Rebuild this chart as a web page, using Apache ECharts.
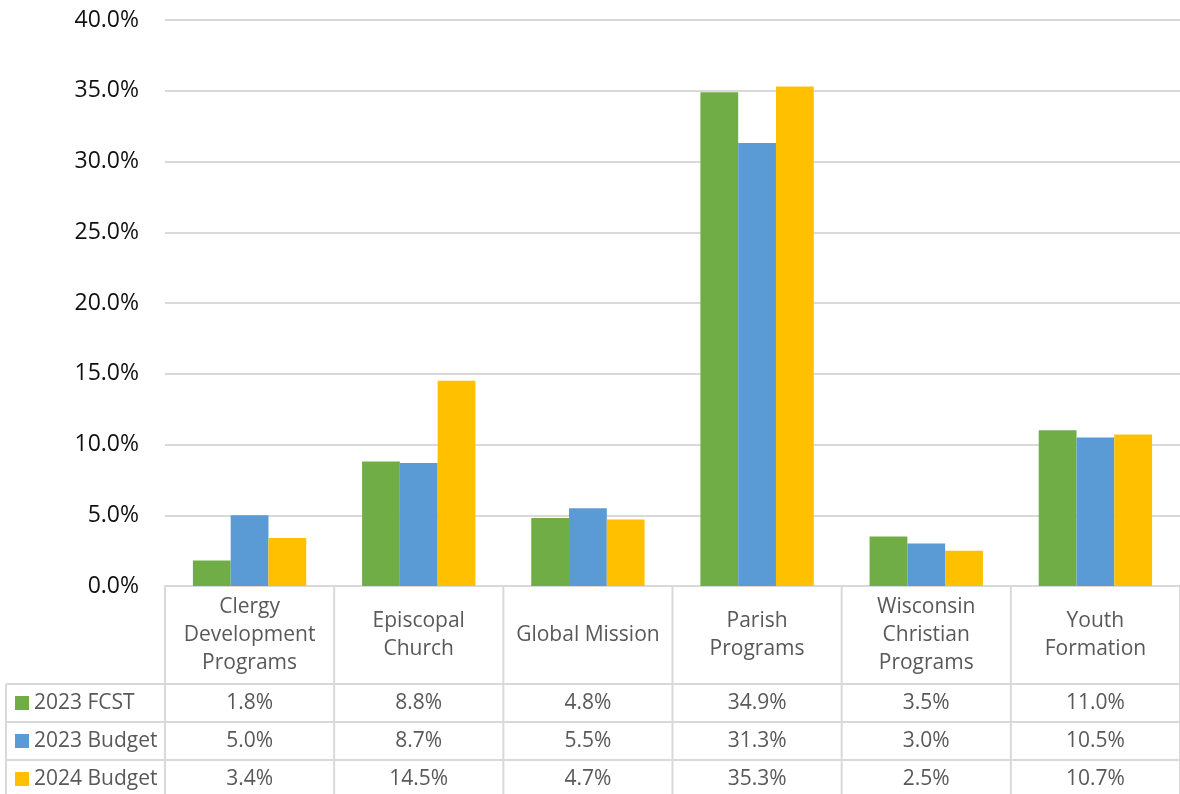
<!DOCTYPE html>
<html><head><meta charset="utf-8">
<script src="https://cdn.jsdelivr.net/npm/echarts@6/dist/echarts.min.js"></script>
<style>html,body{margin:0;padding:0;background:#fff}#c{width:1180px;height:794px}</style>
</head><body><div id="c"></div>
<script>
const categories = ['Clergy\nDevelopment\nPrograms', 'Episcopal\nChurch', 'Global Mission', 'Parish\nPrograms', 'Wisconsin\nChristian\nPrograms', 'Youth\nFormation'];
const seriesNames = ['2023 FCST', '2023 Budget', '2024 Budget'];
const fcst2023 = [1.8, 8.8, 4.8, 34.9, 3.5, 11.0];
const budget2023 = [5.0, 8.7, 5.5, 31.3, 3.0, 10.5];
const budget2024 = [3.4, 14.5, 4.7, 35.3, 2.5, 10.7];
const yTicks = [0, 5, 10, 15, 20, 25, 30, 35, 40];
const colors = ['#70AD47', '#5B9BD5', '#FFC000'];
const seriesData = [fcst2023, budget2023, budget2024];

const FONT = 'Open Sans';
const GRID = {left: 165, top: 20, width: 1018, bottom: 208};
const chart = echarts.init(document.getElementById('c'), null, {renderer: 'canvas'});
chart.setOption({
  animation: false,
  textStyle: {fontFamily: FONT},
  grid: GRID,
  xAxis: {
    type: 'category', data: categories,
    axisLine: {lineStyle: {color: '#d9d9d9', width: 2}},
    axisTick: {show: false},
    axisLabel: {show: false}
  },
  yAxis: {
    type: 'value', min: yTicks[0], max: yTicks[yTicks.length - 1], interval: 5,
    axisLine: {show: false}, axisTick: {show: false},
    axisLabel: {formatter: v => v.toFixed(1) + '%', fontSize: 23, color: '#111', margin: 26, fontFamily: FONT},
    splitLine: {lineStyle: {color: '#d9d9d9', width: 2}}
  },
  series: seriesNames.map((n, i) => ({
    name: n, type: 'bar', data: seriesData[i],
    itemStyle: {color: colors[i]},
    barGap: '0%', barCategoryGap: '33%'
  }))
});

// Build data table from axes
const c0 = chart.convertToPixel({xAxisIndex: 0}, 0);
const c1 = chart.convertToPixel({xAxisIndex: 0}, 1);
const w = c1 - c0;
const x0 = c0 - w / 2;
const axisY = chart.convertToPixel({yAxisIndex: 0}, 0);
const rowH = 38;
const headH = 98;
const rowTop = axisY + headH;
const tableLeft = 6;
const right = x0 + w * categories.length;
const TFS = 21;
const line = (x1, y1, x2, y2) => ({type: 'line', silent: true, shape: {x1, y1, x2, y2}, style: {stroke: '#d9d9d9', lineWidth: 2}});
const g = [];
for (let k = 0; k <= categories.length; k++) {
  g.push(line(x0 + k * w, axisY, x0 + k * w, 800));
}
for (let r = 0; r <= 3; r++) {
  g.push(line(tableLeft, rowTop + r * rowH, right, rowTop + r * rowH));
}
g.push(line(tableLeft, rowTop, tableLeft, 800));
categories.forEach((c, i) => {
  g.push({type: 'text', silent: true, x: x0 + (i + 0.5) * w, y: axisY + headH / 2,
    style: {text: c, fontSize: TFS, lineHeight: 28, fill: '#595959', fontFamily: FONT, align: 'center', verticalAlign: 'middle'}});
});
seriesNames.forEach((n, r) => {
  const cy = rowTop + r * rowH + rowH / 2;
  g.push({type: 'rect', silent: true, shape: {x: 15, y: cy - 7, width: 14, height: 14}, style: {fill: colors[r]}});
  g.push({type: 'text', silent: true, x: 34, y: cy, style: {text: n, fontSize: TFS, fill: '#595959', fontFamily: FONT, align: 'left', verticalAlign: 'middle'}});
  seriesData[r].forEach((v, i) => {
    g.push({type: 'text', silent: true, x: x0 + (i + 0.5) * w, y: cy,
      style: {text: v.toFixed(1) + '%', fontSize: TFS, fill: '#595959', fontFamily: FONT, align: 'center', verticalAlign: 'middle'}});
  });
});
chart.setOption({graphic: g});
</script></body></html>
